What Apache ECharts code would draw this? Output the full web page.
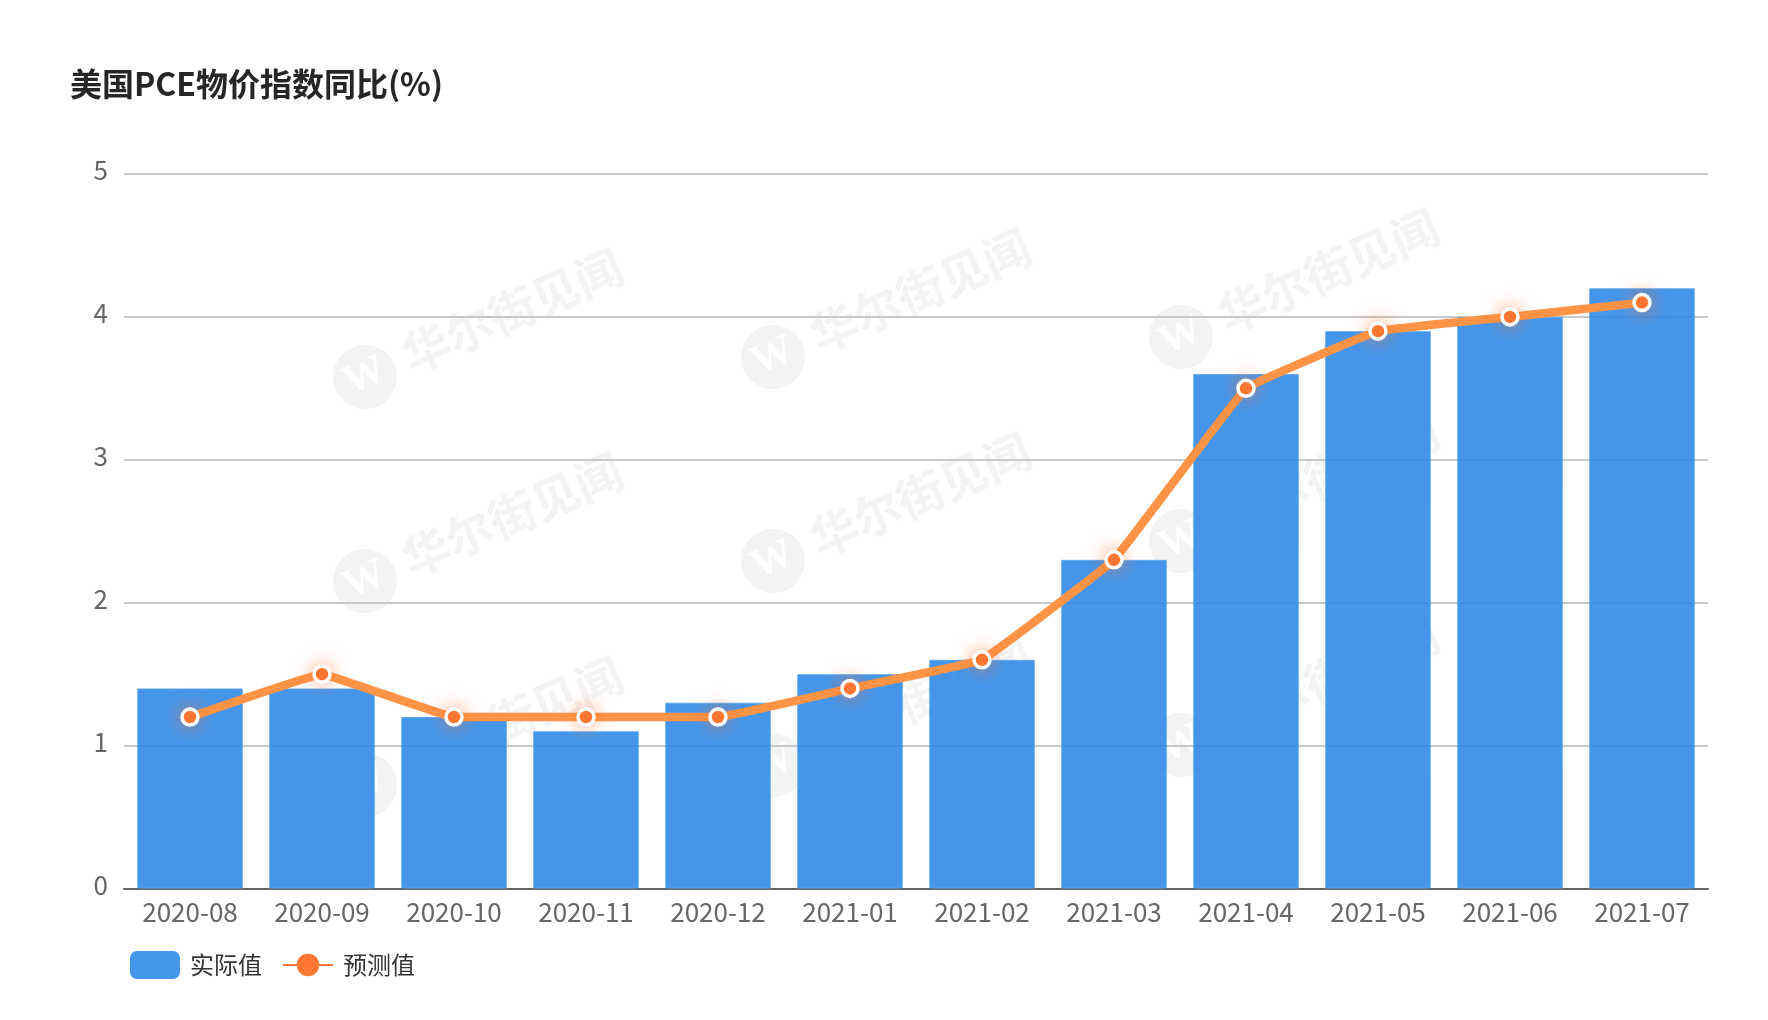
<!DOCTYPE html>
<html>
<head>
<meta charset="utf-8">
<style>
    html, body { margin: 0; padding: 0; background: #fff; }
    #chart { width: 1768px; height: 1020px; }
</style>
</head>
<body>
<div id="chart"></div>
<script src="https://cdn.jsdelivr.net/npm/echarts@6/dist/echarts.min.js"></script>
<script>
// 数据
let months = ['2020-08', '2020-09', '2020-10', '2020-11', '2020-12', '2021-01', '2021-02', '2021-03', '2021-04', '2021-05', '2021-06', '2021-07']
let actual = [1.4, 1.4, 1.2, 1.1, 1.3, 1.5, 1.6, 2.3, 3.6, 3.9, 4.0, 4.2]
let forecast = [1.2, 1.5, 1.2, 1.2, 1.2, 1.4, 1.6, 2.3, 3.5, 3.9, 4.0, 4.1]
let yTicks = [0, 1, 2, 3, 4, 5]

let font = '"Noto Sans CJK SC", "Noto Sans", sans-serif'

// 水印
function watermark(cx, cy) {
    return {
        type: 'group',
        x: cx,
        y: cy,
        rotation: 23.5 * Math.PI / 180,
        silent: true,
        z: -1,
        children: [
            { type: 'circle', shape: { cx: 0, cy: 0, r: 32 }, style: { fill: '#f3f3f3' } },
            { type: 'text', x: 0, y: 0, style: { text: 'W', fill: '#fff', font: 'bold 42px "Liberation Serif", serif', align: 'center', verticalAlign: 'middle' } },
            { type: 'text', x: 44, y: -2, style: { text: '华尔街见闻', fill: '#f3f3f3', font: 'bold 47px ' + font, align: 'left', verticalAlign: 'middle' } }
        ]
    }
}
let marks = []
for (let col = 0; col < 3; col++) {
    for (let row = 0; row < 3; row++) {
        marks.push(watermark(365 + col * 408, 377 - col * 20 + row * 204))
    }
}

let myChart = echarts.init(document.getElementById('chart'), null, { renderer: 'canvas' })
myChart.setOption({
    animation: false,
    backgroundColor: '#fff',
    title: {
        text: '美国PCE物价指数同比(%)',
        left: 65,
        top: 63,
        textStyle: { color: '#262626', fontSize: 32, fontWeight: 'bold', fontFamily: font }
    },
    graphic: marks,
    legend: {
        left: 125,
        top: 946,
        itemWidth: 50,
        itemHeight: 28,
        itemGap: 20,
        textStyle: { color: '#333', fontSize: 24, fontFamily: font, padding: [0, 0, 0, 5] },
        data: [
            { name: '实际值', icon: 'roundRect', itemStyle: { color: '#4597eb', borderWidth: 0 } },
            { name: '预测值', lineStyle: { color: '#ff7733', width: 2 }, itemStyle: { color: '#ff7733', borderWidth: 0, shadowBlur: 0 } }
        ]
    },
    grid: { left: 124, right: 60, top: 174, bottom: 131.5 },
    xAxis: {
        type: 'category',
        data: months,
        axisTick: { show: false },
        axisLine: { lineStyle: { color: '#666', width: 2 } },
        axisLabel: { color: '#666', fontSize: 26, fontFamily: font, margin: 11 }
    },
    yAxis: {
        type: 'value',
        min: yTicks[0],
        max: yTicks[yTicks.length - 1],
        interval: 1,
        axisLine: { show: false },
        axisTick: { show: false },
        axisLabel: { color: '#666', fontSize: 26, fontFamily: font, margin: 16, verticalAlign: 'bottom', lineHeight: 7 },
        splitLine: { lineStyle: { color: '#c8c8c8', width: 2 } }
    },
    series: [
        {
            name: '实际值',
            type: 'bar',
            data: actual,
            barCategoryGap: '20%',
            itemStyle: { color: 'rgba(36,132,231,0.85)', borderColor: 'rgba(90,165,240,0.9)', borderWidth: 1 }
        },
        {
            name: '预测值',
            type: 'line',
            data: forecast,
            smooth: 0.06,
            symbol: 'circle',
            symbolSize: 16,
            lineStyle: { color: '#ff9447', width: 8.5 },
            itemStyle: {
                color: '#ff7733',
                borderColor: '#fff',
                borderWidth: 3.5,
                shadowColor: 'rgba(255,119,51,0.6)',
                shadowBlur: 18
            }
        }
    ]
})
</script>
</body>
</html>
